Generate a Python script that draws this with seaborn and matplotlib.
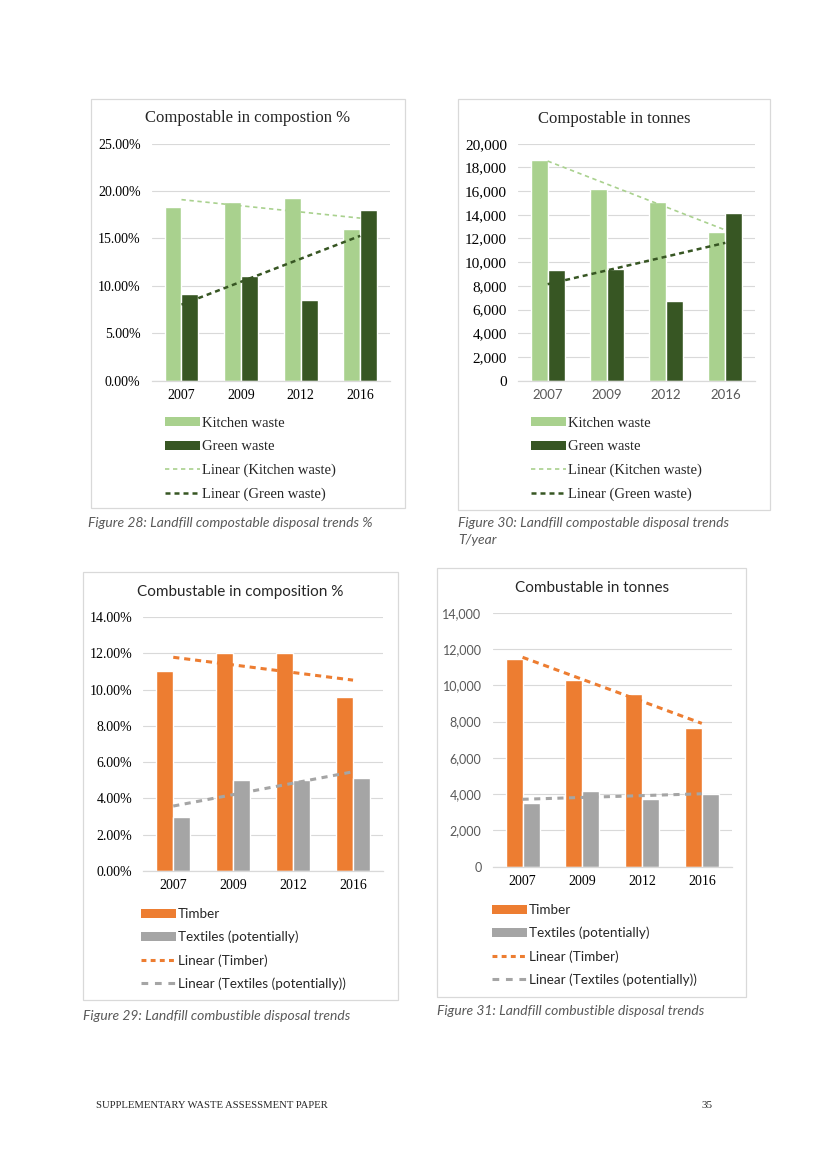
import numpy as np
import pandas as pd
import matplotlib
matplotlib.use("Agg")
import matplotlib.pyplot as plt
import seaborn as sns
from matplotlib.patches import Patch, Rectangle
from matplotlib.lines import Line2D

# ---------------- data ----------------
years = ["2007", "2009", "2012", "2016"]
kitchen_pct = [18.3, 18.9, 19.3, 16.0]
green_pct = [9.1, 11.0, 8.5, 18.0]
kitchen_t = [18650, 16200, 15100, 12550]
green_t = [9340, 9400, 6700, 14120]
timber_pct = [11.0, 12.0, 12.0, 9.6]
textiles_pct = [3.0, 5.0, 5.0, 5.1]
timber_t = [11450, 10270, 9500, 7660]
textiles_t = [3530, 4190, 3730, 4020]

SERIF = ["Liberation Serif", "DejaVu Serif"]
SANS = ["Lato", "DejaVu Sans"]

sns.set_style("white")
plt.rcParams["font.family"] = SERIF

W, H = 821, 1160
fig = plt.figure(figsize=(W / 100, H / 100), dpi=100)
fig.patch.set_facecolor("white")


def fbox(x0, y0, x1, y1):
    return [x0 / W, 1 - y1 / H, (x1 - x0) / W, (y1 - y0) / H]


def chart(axpx, boxpx, title, title_xy, title_font, title_size,
          s1, s2, names, colors, ymax, ystep, fmt,
          yfont, ycolor, ysize, xfont, xcolor, xsize, trend1, trend2,
          legend_xy, legend_font, legend_size, legend_sp, handle_kw,
          captions, cap_x, cap_ys):
    x0, y0, x1, y1 = boxpx
    fig.add_artist(Rectangle((x0 / W, 1 - y1 / H), (x1 - x0) / W, (y1 - y0) / H,
                             transform=fig.transFigure, fill=False,
                             ec="#D9D9D9", lw=0.9))
    ax = fig.add_axes(fbox(*axpx))
    df = pd.DataFrame({"Year": years * 2, "Value": list(s1) + list(s2),
                       "Series": [names[0]] * 4 + [names[1]] * 4})
    sns.barplot(data=df, x="Year", y="Value", hue="Series", order=years,
                hue_order=names[:2], palette=colors[:2], width=0.57,
                saturation=1, errorbar=None, legend=False, ax=ax, zorder=2)
    xs = np.arange(len(years))
    sns.regplot(x=xs, y=np.array(s1, float), ax=ax, scatter=False, ci=None,
                color=colors[2], line_kws=dict(zorder=3, **trend1))
    sns.regplot(x=xs, y=np.array(s2, float), ax=ax, scatter=False, ci=None,
                color=colors[3], line_kws=dict(zorder=3, **trend2))
    ax.set_xlim(-0.5, 3.5)
    ax.set_ylim(0, ymax)
    yt = np.arange(0, ymax + ystep / 2, ystep)
    ax.set_yticks(yt)
    ax.set_yticklabels([fmt(v) for v in yt], fontfamily=yfont, fontsize=ysize,
                       color=ycolor)
    ax.set_xticks(xs)
    ax.set_xticklabels(years, fontfamily=xfont, fontsize=xsize, color=xcolor)
    ax.set_xlabel("")
    ax.set_ylabel("")
    ax.grid(axis="y", color="#D9D9D9", lw=0.8, zorder=0)
    ax.set_axisbelow(True)
    for s in ["top", "right", "left"]:
        ax.spines[s].set_visible(False)
    ax.spines["bottom"].set_color("#D9D9D9")
    ax.spines["bottom"].set_linewidth(0.9)
    ax.tick_params(axis="y", length=0, pad=8)
    ax.tick_params(axis="x", length=0, pad=6)
    fig.text(title_xy[0] / W, 1 - title_xy[1] / H, title, ha="center",
             va="center", fontsize=title_size, family=title_font)
    handles = [Patch(facecolor=colors[0], edgecolor="none"),
               Patch(facecolor=colors[1], edgecolor="none"),
               Line2D([0], [0], color=colors[2], **handle_kw[0]),
               Line2D([0], [0], color=colors[3], **handle_kw[1])]
    labels = [names[0], names[1], f"Linear ({names[0]})", f"Linear ({names[1]})"]
    ax.legend(handles, labels, loc="upper left",
              bbox_to_anchor=(legend_xy[0] / W, 1 - legend_xy[1] / H),
              bbox_transform=fig.transFigure, frameon=False,
              prop=dict(family=legend_font, size=legend_size),
              handlelength=35 / (legend_size * 100 / 72),
              handleheight=0.6, handletextpad=0.15, labelspacing=legend_sp,
              borderpad=0, borderaxespad=0)
    for cap, cy in zip(captions, cap_ys):
        fig.text(cap_x / W, 1 - cy / H, cap, ha="left", va="center",
                 fontsize=10, style="italic", family=SANS, color="#595959")
    return ax


pct = lambda v: f"{v:.2f}%"
ton = lambda v: f"{v:,.0f}"

LG, DG = "#A9D18E", "#375623"
OR, GR = "#ED7D31", "#A5A5A5"

k_tr = dict(lw=1.2, dashes=(2.6, 2.2))
g_tr = dict(lw=1.8, dashes=(2.0, 1.6))

chart((151.7, 143.7, 390, 380.7), (91, 99, 405, 508),
      "Compostable in compostion %", (248, 118), SERIF, 12,
      kitchen_pct, green_pct, ["Kitchen waste", "Green waste"],
      [LG, DG, LG, DG], 25, 5, pct, SERIF, "black", 10, SERIF, "black", 10,
      k_tr, g_tr, (165, 417), SERIF, 10.5, 0.72, [k_tr, g_tr],
      ["Figure 28: Landfill compostable disposal trends %"], 88, [523])

chart((518, 143.7, 755, 380.7), (458, 99, 770, 510),
      "Compostable in tonnes", (614, 119), SERIF, 12,
      kitchen_t, green_t, ["Kitchen waste", "Green waste"],
      [LG, DG, LG, DG], 20000, 2000, ton, SERIF, "black", 11, SANS, "#595959", 9.5,
      k_tr, g_tr, (531, 417), SERIF, 10.5, 0.72, [k_tr, g_tr],
      ["Figure 30: Landfill compostable disposal trends", "T/year"], 458, [523, 540])

o_tr = dict(lw=2.2, dashes=(2.0, 1.6))
t_tr = dict(lw=2.2, dashes=(2.0, 1.8))
o_hd = dict(lw=2.2, dashes=(1.6, 1.4))
t_hd = dict(lw=2.2, dashes=(2.2, 2.2))

chart((143.3, 617, 383, 871), (83, 572, 398, 1000),
      "Combustable in composition %", (240, 592), SANS, 11,
      timber_pct, textiles_pct, ["Timber", "Textiles (potentially)"],
      [OR, GR, OR, GR], 14, 2, pct, SERIF, "black", 10, SERIF, "black", 10,
      o_tr, t_tr, (141, 908), SANS, 9.7, 0.8, [o_hd, t_hd],
      ["Figure 29: Landfill combustible disposal trends"], 83, [1016])

chart((492.7, 612.7, 731.7, 866.7), (437, 568, 746, 997),
      "Combustable in tonnes", (592, 588), SANS, 11,
      timber_t, textiles_t, ["Timber", "Textiles (potentially)"],
      [OR, GR, OR, GR], 14000, 2000, ton, SANS, "#595959", 9, SERIF, "black", 10,
      o_tr, t_tr, (492, 904), SANS, 9.7, 0.8, [o_hd, t_hd],
      ["Figure 31: Landfill combustible disposal trends"], 437, [1011])

fig.text(96 / W, 1 - 1106 / H, "SUPPLEMENTARY WASTE ASSESSMENT PAPER",
         ha="left", va="center", fontsize=7.7, family=SERIF)
fig.text(712 / W, 1 - 1106 / H, "35", ha="right", va="center", fontsize=8,
         family=SERIF)

fig.savefig("out.png", dpi=100, facecolor="white")
